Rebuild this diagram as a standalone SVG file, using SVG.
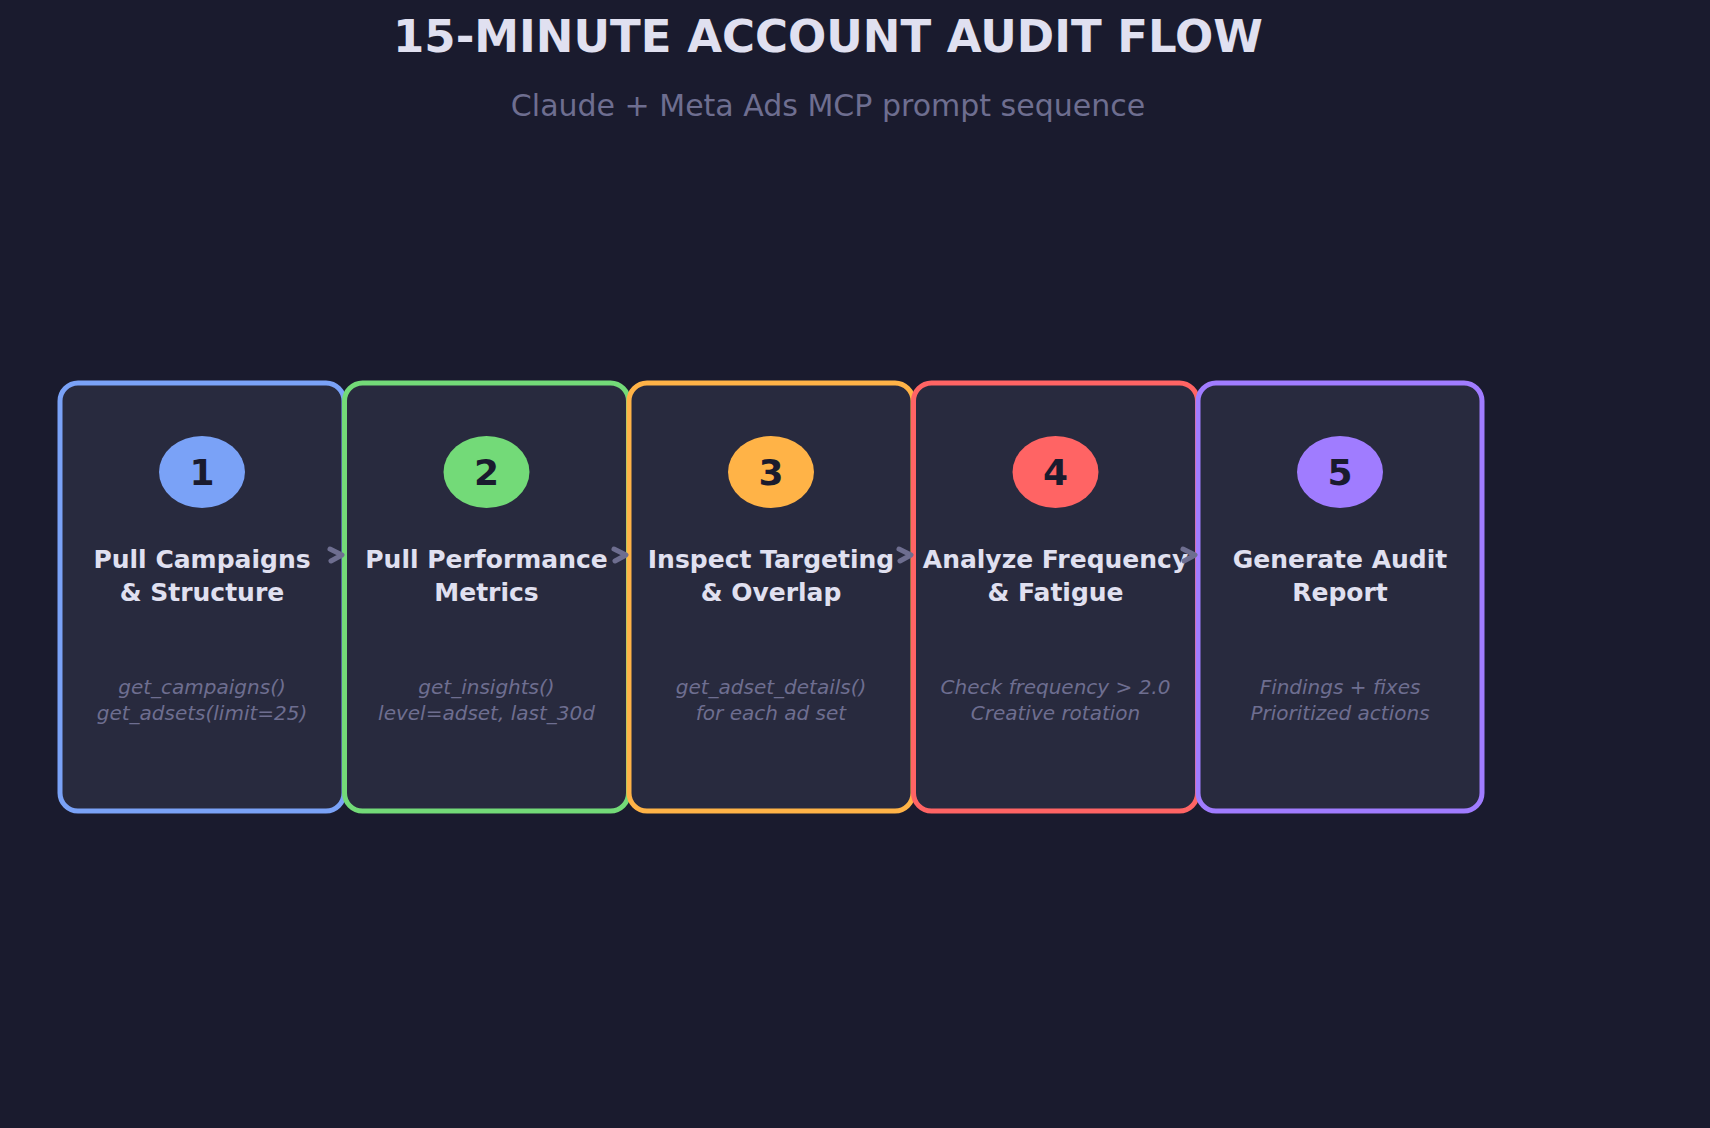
<svg xmlns="http://www.w3.org/2000/svg" width="1710" height="1128" viewBox="0 0 1710 1128">
<style>
.box{fill:#282a3e;stroke-width:5}
.num{font:bold 36px "DejaVu Sans",sans-serif;fill:#1a1b2e;text-anchor:middle}
.t{font:bold 25px "DejaVu Sans",sans-serif;fill:#e0e0f0;text-anchor:middle}
.s{font:italic 20px "DejaVu Sans",sans-serif;fill:#6e6e90;text-anchor:middle}
.arr{fill:none;stroke:#6e6e90;stroke-width:5;stroke-linecap:round;stroke-linejoin:round}
</style>
<rect width="1710" height="1128" fill="#1a1b2e"/>
<text x="828" y="52" style="font:bold 45px 'DejaVu Sans',sans-serif;fill:#e0e0f0;text-anchor:middle">15-MINUTE ACCOUNT AUDIT FLOW</text>
<text x="828" y="116" style="font:30px 'DejaVu Sans',sans-serif;fill:#6e6e90;text-anchor:middle">Claude + Meta Ads MCP prompt sequence</text>
<g id="n1"><rect class="box" x="60" y="383" width="284" height="428" rx="18" stroke="#7aa2f7"/><ellipse cx="202" cy="472" rx="43" ry="36" fill="#7aa2f7"/><text class="num" x="202" y="485">1</text><text class="t" x="202" y="568">Pull Campaigns</text><text class="t" x="202" y="601">&amp; Structure</text><text class="s" x="202" y="694">get_campaigns()</text><text class="s" x="202" y="720">get_adsets(limit=25)</text></g>
<g id="n2"><rect class="box" x="344.5" y="383" width="284" height="428" rx="18" stroke="#73da78"/><ellipse cx="486.5" cy="472" rx="43" ry="36" fill="#73da78"/><text class="num" x="486.5" y="485">2</text><text class="t" x="486.5" y="568">Pull Performance</text><text class="t" x="486.5" y="601">Metrics</text><text class="s" x="486.5" y="694">get_insights()</text><text class="s" x="486.5" y="720">level=adset, last_30d</text></g>
<g id="n3"><rect class="box" x="629" y="383" width="284" height="428" rx="18" stroke="#ffb347"/><ellipse cx="771" cy="472" rx="43" ry="36" fill="#ffb347"/><text class="num" x="771" y="485">3</text><text class="t" x="771" y="568">Inspect Targeting</text><text class="t" x="771" y="601">&amp; Overlap</text><text class="s" x="771" y="694">get_adset_details()</text><text class="s" x="771" y="720">for each ad set</text></g>
<g id="n4"><rect class="box" x="913.5" y="383" width="284" height="428" rx="18" stroke="#ff6464"/><ellipse cx="1055.5" cy="472" rx="43" ry="36" fill="#ff6464"/><text class="num" x="1055.5" y="485">4</text><text class="t" x="1055.5" y="568">Analyze Frequency</text><text class="t" x="1055.5" y="601">&amp; Fatigue</text><text class="s" x="1055.5" y="694">Check frequency &gt; 2.0</text><text class="s" x="1055.5" y="720">Creative rotation</text></g>
<g id="n5"><rect class="box" x="1198" y="383" width="284" height="428" rx="18" stroke="#a07cff"/><ellipse cx="1340" cy="472" rx="43" ry="36" fill="#a07cff"/><text class="num" x="1340" y="485">5</text><text class="t" x="1340" y="568">Generate Audit</text><text class="t" x="1340" y="601">Report</text><text class="s" x="1340" y="694">Findings + fixes</text><text class="s" x="1340" y="720">Prioritized actions</text></g>
<g id="connectors">
<path class="arr" d="M330 549 L342 555 L331 561"/>
<path class="arr" d="M614 549 L626 555 L615 561"/>
<path class="arr" d="M899 549 L911 555 L900 561"/>
<path class="arr" d="M1183 549 L1195 555 L1184 561"/>
</g>
</svg>
